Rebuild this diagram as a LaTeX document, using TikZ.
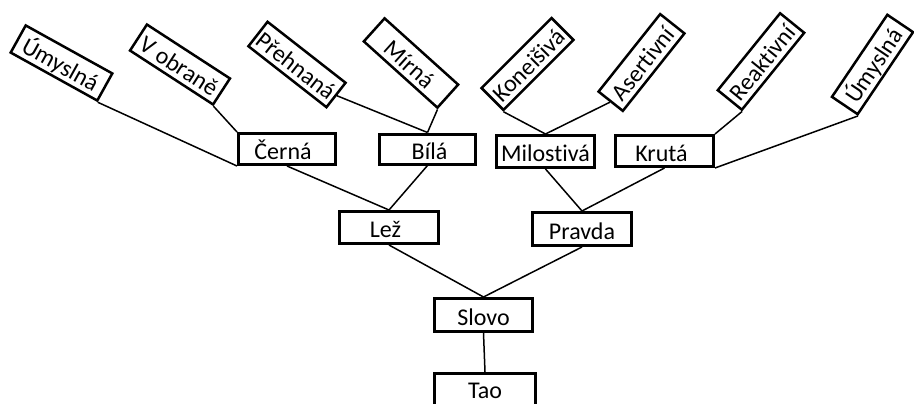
\documentclass[tikz,border=0pt]{standalone}
\usepackage{fontspec}
\setmainfont{Carlito}[Ligatures=NoCommon]
\begin{document}
\begin{tikzpicture}[x=1pt,y=-1pt,
  every node/.style={font=\fontsize{24}{28}\selectfont, inner sep=0pt, text height=20pt, text depth=0pt},
  upbox/.style={draw, line width=3pt, minimum width=97pt, minimum height=31pt},
  tiltbox/.style={draw, line width=2.5pt, minimum width=99pt, minimum height=31pt},
  link/.style={line width=1.5pt}]
\useasboundingbox (0,0) rectangle (914,404);
% tilted leaf boxes
\node[tiltbox, rotate=-29] (UmL) at (61.5,63) {Úmyslná};
\node[tiltbox, rotate=-33] (Vobr) at (180,64.5) {V obraně};
\node[tiltbox, rotate=-38] (Preh) at (297,64.5) {Přehnaná};
\node[tiltbox, rotate=-42] (Mirna) at (411,63) {Mírná};
\node[tiltbox, rotate=45] (Kone) at (527.5,64) {Koneišivá};
\node[tiltbox, rotate=51.5] (Asert) at (641.5,62.5) {Asertivní};
\node[tiltbox, rotate=51] (Reakt) at (761,61.5) {Reaktivní};
\node[tiltbox, rotate=56] (UmR) at (872.5,64.5) {Úmyslná};
% upright boxes
\node[upbox] (Cerna) at (287,149) {Černá\kern8pt};
\node[upbox, minimum width=96pt, minimum height=30pt] (Bila) at (427.5,149) {\kern4pt Bílá};
\node[upbox, minimum width=98pt, minimum height=32pt] (Milo) at (545.5,151.5) {Milostivá};
\node[upbox, minimum width=98pt] (Kruta) at (664.5,151) {Krutá\kern6pt};
\node[upbox, minimum width=99pt, minimum height=32pt] (Lez) at (389,227.5) {Lež\kern7pt};
\node[upbox, minimum width=99pt, minimum height=33pt] (Pravda) at (582,229) {Pravda};
\node[upbox, minimum width=98pt, minimum height=33pt] (Slovo) at (483.5,315) {Slovo};
\node[upbox, minimum width=101pt, minimum height=33pt, text depth=4pt] (Tao) at (485,390) {Tao};
% connectors
\draw[link] (UmL.south east) -- (Cerna.south west);
\draw[link] (Vobr.south east) -- (Cerna.north west);
\draw[link] (Preh.east) -- (Bila.north);
\draw[link] (Mirna.south east) -- (Bila.north);
\draw[link] (Kone.south west) -- (Milo.north);
\draw[link] (Asert.west) -- (Milo.north);
\draw[link] (Reakt.south west) -- (Kruta.north east);
\draw[link] (UmR.south west) -- (Kruta.south east);
\draw[link] (Cerna.south) -- (Lez.north);
\draw[link] (Bila.south) -- (Lez.north);
\draw[link] (Milo.south) -- (Pravda.north);
\draw[link] (Kruta.south) -- (Pravda.north);
\draw[link] (Lez.south) -- (Slovo.north);
\draw[link] (Pravda.south) -- (Slovo.north);
\draw[link] (Slovo.south) -- (Tao.north);
\end{tikzpicture}
\end{document}
